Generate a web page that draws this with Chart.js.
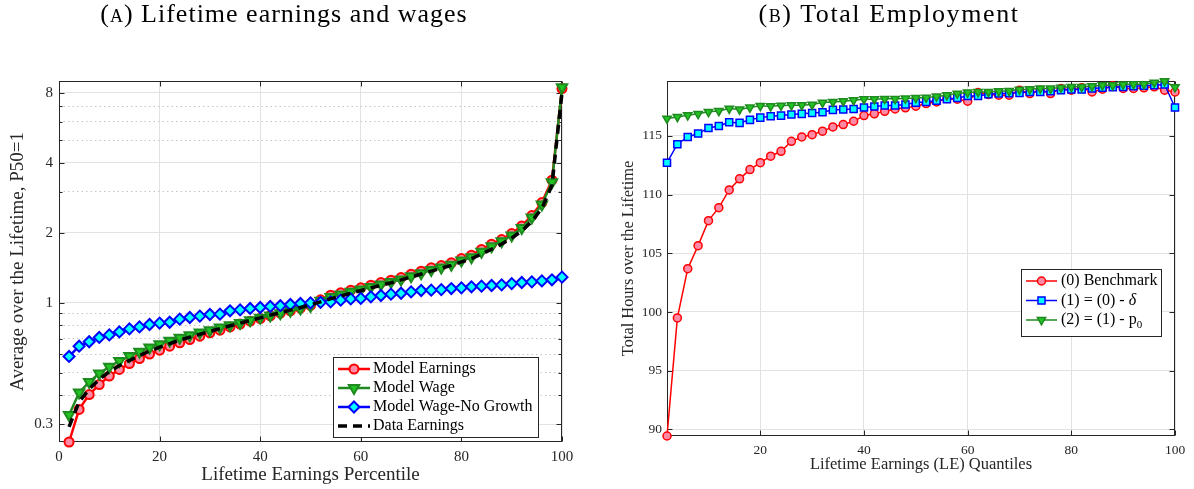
<!DOCTYPE html>
<html lang="en">
<head>
  <meta charset="UTF-8">
  <title>Lifetime earnings and total employment</title>
  <script src="https://cdn.jsdelivr.net/npm/chart.js"></script>
  <style>
    body { margin: 0; background: #fff; }
    .panel { position: absolute; top: 0; width: 597px; height: 489px; }
    .panel canvas { position: absolute; left: 0; top: 0; }
    .title {
      position: absolute; top: 1px; transform: translateX(-50%);
      white-space: nowrap; font-family: "Liberation Serif", serif;
      font-size: 26px; line-height: 26px; color: #000; z-index: 2;
    }
    .sc { font-variant: small-caps; }
  </style>
</head>
<body>
  <div class="title" style="left:284px; letter-spacing:1px"><span class="sc">(a)</span> Lifetime earnings and wages</div>
  <div class="title" style="left:889px; letter-spacing:1.6px"><span class="sc">(b)</span> Total Employment</div>

  <div class="panel" style="left:0">
    <canvas id="earnChart" width="597" height="489"></canvas>
  </div>
  <div class="panel" style="left:597px">
    <canvas id="empChart" width="597" height="489"></canvas>
  </div>

  <script>
    // lifetime earnings percentiles / quantiles (x axis of both panels)
    const pctl = [2, 4, 6, 8, 10, 12, 14, 16, 18, 20, 22, 24, 26, 28, 30, 32, 34, 36, 38, 40,
                  42, 44, 46, 48, 50, 52, 54, 56, 58, 60, 62, 64, 66, 68, 70, 72, 74, 76, 78, 80,
                  82, 84, 86, 88, 90, 92, 94, 96, 98, 100];

    // panel (a): averages over the lifetime, P50 = 1
    const modelEarnings = [0.252, 0.348, 0.403, 0.445, 0.484, 0.517, 0.548, 0.576, 0.602, 0.626,
                           0.651, 0.673, 0.695, 0.719, 0.743, 0.763, 0.788, 0.810, 0.834, 0.856,
                           0.880, 0.903, 0.924, 0.949, 0.975, 1.03, 1.079, 1.104, 1.134, 1.16,
                           1.191, 1.223, 1.252, 1.285, 1.328, 1.368, 1.414, 1.447, 1.486, 1.551,
                           1.604, 1.696, 1.788, 1.872, 1.987, 2.143, 2.373, 2.70, 3.37, 8.35];
    const modelWage = [0.329, 0.411, 0.457, 0.497, 0.531, 0.562, 0.590, 0.616, 0.643, 0.664,
                       0.687, 0.707, 0.726, 0.745, 0.763, 0.783, 0.800, 0.820, 0.842, 0.862,
                       0.882, 0.903, 0.924, 0.945, 0.968, 1.02, 1.06, 1.085, 1.115, 1.14,
                       1.17, 1.20, 1.23, 1.26, 1.30, 1.34, 1.385, 1.42, 1.46, 1.52,
                       1.57, 1.66, 1.75, 1.84, 1.95, 2.10, 2.33, 2.65, 3.30, 8.45];
    const modelWageNoGrowth = [0.588, 0.651, 0.680, 0.710, 0.728, 0.750, 0.773, 0.788, 0.807, 0.818,
                               0.825, 0.851, 0.865, 0.877, 0.891, 0.894, 0.924, 0.933, 0.946, 0.955,
                               0.965, 0.972, 0.984, 0.994, 1.0, 1.005, 1.01, 1.027, 1.04, 1.045,
                               1.061, 1.075, 1.09, 1.10, 1.115, 1.13, 1.134, 1.14, 1.152, 1.16,
                               1.172, 1.18, 1.187, 1.195, 1.21, 1.223, 1.231, 1.243, 1.256, 1.29];
    const dataEarnings = [0.293, 0.375, 0.425, 0.468, 0.505, 0.537, 0.565, 0.594, 0.620, 0.645,
                          0.668, 0.690, 0.712, 0.733, 0.754, 0.775, 0.797, 0.818, 0.840, 0.862,
                          0.885, 0.907, 0.930, 0.955, 0.980, 1.01, 1.04, 1.07, 1.10, 1.13,
                          1.16, 1.19, 1.22, 1.255, 1.29, 1.33, 1.37, 1.41, 1.45, 1.50,
                          1.55, 1.62, 1.70, 1.79, 1.90, 2.04, 2.24, 2.55, 3.20, 8.0];
    const earnYMajor = [0.3, 1, 2, 4, 8];
    const earnYMinor = [0.4, 0.5, 0.6, 0.7, 0.8, 0.9, 3, 5, 6, 7];
    const earnXTicks = [0, 20, 40, 60, 80, 100];

    // panel (b): total hours over the lifetime
    const benchmark = [89.43, 99.49, 103.69, 105.65, 107.78, 108.89, 110.40, 111.34, 112.13, 112.72,
                       113.27, 113.69, 114.54, 114.91, 115.11, 115.40, 115.77, 115.97, 116.25, 116.73,
                       116.88, 117.10, 117.30, 117.39, 117.53, 117.76, 117.90, 118.19, 118.13, 117.96,
                       118.70, 118.53, 118.47, 118.47, 118.90, 118.61, 118.90, 118.61, 119.04, 118.90,
                       119.10, 118.75, 118.98, 119.27, 119.04, 119.04, 119.10, 119.18, 118.90, 118.75];
    const noDelta = [112.72, 114.29, 114.91, 115.20, 115.68, 115.85, 116.17, 116.11, 116.37, 116.56,
                     116.68, 116.73, 116.82, 116.88, 116.96, 117.02, 117.22, 117.25, 117.30, 117.42,
                     117.50, 117.59, 117.59, 117.67, 117.84, 117.90, 118.01, 118.13, 118.24, 118.41,
                     118.41, 118.56, 118.61, 118.64, 118.67, 118.75, 118.75, 118.81, 118.90, 118.95,
                     118.95, 119.04, 119.10, 119.15, 119.18, 119.24, 119.27, 119.32, 119.38, 117.42];
    const noP0 = [116.48, 116.62, 116.76, 116.88, 117.05, 117.13, 117.33, 117.25, 117.42, 117.56,
                  117.53, 117.59, 117.62, 117.62, 117.67, 117.84, 117.90, 117.96, 118.04, 118.13,
                  118.13, 118.16, 118.16, 118.19, 118.24, 118.27, 118.36, 118.47, 118.61, 118.70,
                  118.75, 118.75, 118.81, 118.84, 118.95, 118.98, 119.04, 119.04, 119.12, 119.18,
                  119.18, 119.24, 119.32, 119.32, 119.38, 119.41, 119.41, 119.55, 119.66, 119.15];
    const empXTicks = [20, 40, 60, 80, 100];
    const empYTicks = [90, 95, 100, 105, 110, 115];

    const SERIF = '"Liberation Serif", "DejaVu Serif", serif';
    const INK = '#262626';
    const GRID = '#e2e2e2';

    const pairs = ys => pctl.map((x, i) => ({ x: x, y: ys[i] }));

    // box around the axes with inward ticks, matlab style
    const matFrame = {
      id: 'matFrame',
      beforeDatasetsDraw(chart, args, o) {
        const { ctx, chartArea: a } = chart;
        const xs = chart.scales.x, ys = chart.scales.y;
        const L = Math.round(a.left) + 0.5, R = Math.round(a.right) - 0.5;
        const T = Math.round(a.top) + 0.5, B = Math.round(a.bottom) - 0.5;
        ctx.save();
        ctx.strokeStyle = INK;
        ctx.lineWidth = 1;
        ctx.strokeRect(L, T, R - L, B - T);
        ctx.beginPath();
        o.xTicks.forEach(v => {
          const p = Math.round(xs.getPixelForValue(v)) + 0.5;
          ctx.moveTo(p, B); ctx.lineTo(p, B - 5);
          ctx.moveTo(p, T); ctx.lineTo(p, T + 5);
        });
        o.yTicks.forEach(v => {
          const p = Math.round(ys.getPixelForValue(v)) + 0.5;
          ctx.moveTo(L, p); ctx.lineTo(L + 5, p);
          ctx.moveTo(R, p); ctx.lineTo(R - 5, p);
        });
        (o.yMinor || []).forEach(v => {
          const p = Math.round(ys.getPixelForValue(v)) + 0.5;
          ctx.moveTo(L, p); ctx.lineTo(L + 3, p);
          ctx.moveTo(R, p); ctx.lineTo(R - 3, p);
        });
        ctx.stroke();
        ctx.restore();
      }
    };

    // legend box drawn inside the axes
    function drawLabel(ctx, text, x, y, size) {
      const parts = text.split(/(δ|₀)/);
      let cx = x;
      parts.forEach(p => {
        if (!p) return;
        if (p === 'δ') {
          ctx.font = 'italic ' + size + 'px ' + SERIF;
          ctx.fillText(p, cx, y);
        } else if (p === '₀') {
          ctx.font = Math.round(size * 0.7) + 'px ' + SERIF;
          ctx.fillText('0', cx, y + size * 0.3);
          cx += ctx.measureText('0').width;
          return;
        } else {
          ctx.font = size + 'px ' + SERIF;
          ctx.fillText(p, cx, y);
        }
        cx += ctx.measureText(p).width;
      });
    }

    const matLegend = {
      id: 'matLegend',
      afterDraw(chart, args, o) {
        const ctx = chart.ctx;
        ctx.save();
        ctx.fillStyle = '#fff';
        ctx.fillRect(o.x, o.y, o.w, o.h);
        ctx.strokeStyle = INK;
        ctx.lineWidth = 1;
        ctx.strokeRect(o.x + 0.5, o.y + 0.5, o.w, o.h);
        chart.data.datasets.forEach((ds, i) => {
          const cy = o.y + o.first + i * o.row;
          const x0 = o.x + o.lineStart, x1 = x0 + o.lineLen;
          ctx.strokeStyle = ds.borderColor;
          ctx.lineWidth = ds.borderWidth;
          ctx.setLineDash(ds.borderDash || []);
          ctx.beginPath(); ctx.moveTo(x0, cy); ctx.lineTo(x1, cy); ctx.stroke();
          ctx.setLineDash([]);
          if (ds.pointRadius > 0) {
            ctx.fillStyle = ds.pointBackgroundColor;
            ctx.strokeStyle = ds.pointBorderColor;
            ctx.lineWidth = ds.pointBorderWidth;
            Chart.helpers.drawPoint(ctx, {
              pointStyle: ds.pointStyle, rotation: ds.pointRotation || 0,
              radius: ds.pointRadius, borderWidth: ds.pointBorderWidth
            }, (x0 + x1) / 2, cy);
          }
          ctx.fillStyle = '#000';
          ctx.textBaseline = 'middle';
          ctx.textAlign = 'left';
          drawLabel(ctx, ds.label, o.x + o.textStart, cy, o.size);
        });
        ctx.restore();
      }
    };

    // panel (a)
    new Chart(document.getElementById('earnChart'), {
      type: 'line',
      data: {
        datasets: [
          { label: 'Model Earnings', data: pairs(modelEarnings), order: 4,
            borderColor: '#ff0000', borderWidth: 2.5, pointStyle: 'circle', pointRadius: 4.5,
            pointBackgroundColor: '#ff8aa6', pointBorderColor: '#ff0000', pointBorderWidth: 2 },
          { label: 'Model Wage', data: pairs(modelWage), order: 3,
            borderColor: '#1f8a1f', borderWidth: 2.5, pointStyle: 'triangle', pointRotation: 180, pointRadius: 6,
            pointBackgroundColor: '#22c322', pointBorderColor: '#1f8a1f', pointBorderWidth: 2 },
          { label: 'Model Wage-No Growth', data: pairs(modelWageNoGrowth), order: 2,
            borderColor: '#0000ff', borderWidth: 2.5, pointStyle: 'rectRot', pointRadius: 5.5,
            pointBackgroundColor: '#00ffff', pointBorderColor: '#0000ff', pointBorderWidth: 2 },
          { label: 'Data Earnings', data: pairs(dataEarnings), order: 1,
            borderColor: '#000000', borderWidth: 3.5, borderDash: [9, 6], pointRadius: 0 }
        ]
      },
      options: {
        responsive: false,
        animation: false,
        devicePixelRatio: 1,
        datasets: { line: { clip: false, tension: 0 } },
        layout: { padding: { left: 0, top: 81, right: 35, bottom: 0 } },
        plugins: {
          legend: { display: false },
          tooltip: { enabled: false },
          matFrame: { xTicks: earnXTicks, yTicks: earnYMajor, yMinor: earnYMinor },
          matLegend: { x: 333, y: 357, w: 205, h: 80, first: 12, row: 19,
                       lineStart: 5, lineLen: 32, textStart: 40, size: 16 }
        },
        scales: {
          x: {
            type: 'linear', min: 0, max: 100,
            afterBuildTicks: s => { s.ticks = earnXTicks.map(v => ({ value: v })); },
            afterFit: s => { s.height = 47; },
            grid: { color: GRID, drawTicks: false },
            border: { display: false },
            ticks: { padding: 6, color: INK, maxRotation: 0, font: { family: SERIF, size: 15 } },
            title: { display: true, text: 'Lifetime Earnings Percentile', color: INK,
                     font: { family: SERIF, size: 19 }, padding: { top: 0, bottom: 3 } }
          },
          y: {
            type: 'logarithmic', min: 0.252, max: 9.0,
            afterBuildTicks: s => {
              s.ticks = earnYMajor.concat(earnYMinor).sort((a, b) => a - b).map(v => ({ value: v }));
            },
            afterFit: s => { s.width = 59; },
            grid: {
              drawTicks: false,
              color: c => (c.tick && earnYMinor.includes(c.tick.value)) ? '#c4c4c4' : GRID
            },
            border: {
              display: false,
              dash: c => (c.tick && earnYMinor.includes(c.tick.value)) ? [1.5, 3] : []
            },
            ticks: {
              padding: 6, color: INK, autoSkip: false, font: { family: SERIF, size: 15 },
              callback: v => earnYMajor.includes(v) ? String(v) : ''
            },
            title: { display: true, text: 'Average over the Lifetime, P50=1', color: INK,
                     font: { family: SERIF, size: 19 }, padding: { top: 7, bottom: 0 } }
          }
        }
      },
      plugins: [matFrame, matLegend]
    });

    // panel (b)
    new Chart(document.getElementById('empChart'), {
      type: 'line',
      data: {
        datasets: [
          { label: '(0) Benchmark', data: pairs(benchmark), order: 3,
            borderColor: '#ff0000', borderWidth: 1.5, pointStyle: 'circle', pointRadius: 4,
            pointBackgroundColor: '#ff8aa6', pointBorderColor: '#ff0000', pointBorderWidth: 1.5 },
          { label: '(1) = (0) - δ', data: pairs(noDelta), order: 2,
            borderColor: '#0000ff', borderWidth: 1.5, pointStyle: 'rect', pointRadius: 5,
            pointBackgroundColor: '#00ffff', pointBorderColor: '#0000ff', pointBorderWidth: 1.5 },
          { label: '(2) = (1) - p₀', data: pairs(noP0), order: 1,
            borderColor: '#1f8a1f', borderWidth: 1.5, pointStyle: 'triangle', pointRotation: 180, pointRadius: 4.8,
            pointBackgroundColor: '#22c322', pointBorderColor: '#1f8a1f', pointBorderWidth: 1.5 }
        ]
      },
      options: {
        responsive: false,
        animation: false,
        devicePixelRatio: 1,
        datasets: { line: { clip: false, tension: 0 } },
        layout: { padding: { left: 0, top: 81, right: 19, bottom: 10 } },
        plugins: {
          legend: { display: false },
          tooltip: { enabled: false },
          matFrame: { xTicks: empXTicks, yTicks: empYTicks },
          matLegend: { x: 424, y: 269, w: 140, h: 67, first: 12, row: 19.5,
                       lineStart: 5, lineLen: 31, textStart: 40, size: 16 }
        },
        scales: {
          x: {
            type: 'linear', min: 2, max: 100,
            afterBuildTicks: s => { s.ticks = empXTicks.map(v => ({ value: v })); },
            afterFit: s => { s.height = 43; },
            grid: { color: GRID, drawTicks: false },
            border: { display: false },
            ticks: { padding: 6, color: INK, maxRotation: 0, font: { family: SERIF, size: 13.5 } },
            title: { display: true, text: 'Lifetime Earnings (LE) Quantiles', color: INK,
                     font: { family: SERIF, size: 16.5 }, padding: { top: 0, bottom: 4 } }
          },
          y: {
            type: 'linear', min: 89.43, max: 119.68,
            afterBuildTicks: s => { s.ticks = empYTicks.map(v => ({ value: v })); },
            afterFit: s => { s.width = 70; },
            grid: { color: GRID, drawTicks: false },
            border: { display: false },
            ticks: { padding: 5, color: INK, font: { family: SERIF, size: 13.5 } },
            title: { display: true, text: 'Total Hours over the Lifetime', color: INK,
                     font: { family: SERIF, size: 16.4 }, padding: { top: 22, bottom: 0 } }
          }
        }
      },
      plugins: [matFrame, matLegend]
    });
  </script>
</body>
</html>
